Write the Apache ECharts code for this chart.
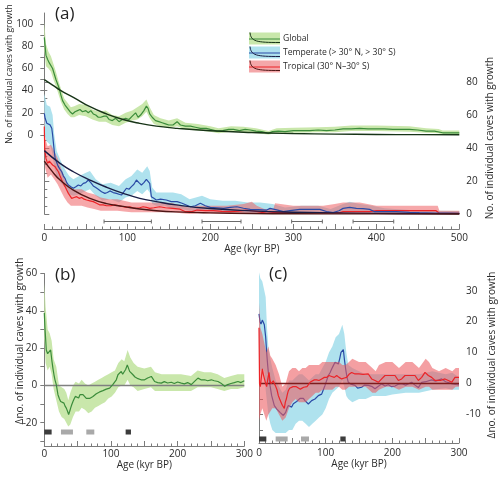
<!DOCTYPE html>
<html><head><meta charset="utf-8">
<script src="https://cdn.jsdelivr.net/npm/echarts@6/dist/echarts.min.js"></script>
<style>html,body{margin:0;padding:0;background:#fff}#c{width:500px;height:477px}</style>
</head><body><div id="c"></div>
<script>
// ---------- Panel (a): number of caves with growth ----------
const globalLine = [[0,88],[1,80],[2,72],[4,68],[6,65],[8,64],[10,60],[12,55],[14,50],[16,46],[18,42],[20,36],[22,31],[25,27],[28,24],[31,21],[34,19],[37,21],[40,22],[43,23],[46,21],[50,22],[53,20],[56,22],[59,19],[62,18],[65,16],[68,16],[72,17],[75,17],[78,14],[82,13],[86,15],[90,12],[94,14],[98,15],[102,14],[106,17],[110,20],[113,16],[116,18],[120,22],[123,26],[125,24],[127,19],[130,16],[134,13],[138,12],[142,11],[146,10],[150,9],[155,9],[160,12],[164,9],[170,8],[176,8],[182,7],[188,6],[195,6],[200,5],[208,3.5],[215,4],[222,5],[228,5],[235,4],[242,5],[248,4.5],[255,3.5],[262,3],[270,1.5],[275,3],[282,3.5],[290,3],[300,4],[310,4],[320,4],[330,4.5],[340,4],[350,4.5],[360,5.5],[370,5.5],[380,6],[390,5.5],[400,5.5],[410,5.5],[420,5],[430,5],[440,5],[450,4.5],[460,3.5],[470,3.5],[480,2],[490,2],[500,2]];
const globalBand = [[0,76,102],[2,62,82],[5,60,75],[8,57,71],[11,50,64],[14,44,57],[17,37,49],[20,30,42],[24,23,33],[28,19,29],[32,16,25],[36,16,26],[42,18,28],[50,17,27],[58,14,23],[66,12,21],[74,12,22],[82,9,18],[90,8,17],[98,11,20],[106,13,22],[112,14,25],[118,17,28],[123,21,32],[127,15,25],[132,10,18],[140,8,15],[150,6,13],[160,8,15],[170,5,11],[185,4,10],[200,3,8],[210,1.5,6],[225,3,8],[240,2.5,7.5],[255,1.5,6],[270,0.5,3.5],[280,1.5,6],[300,2,6.5],[330,2.5,7],[350,2.5,7.5],[370,3.5,8.5],[400,3.5,8.5],[440,3,8],[460,2,6],[475,1.5,5.5],[480,0.5,4],[500,0.5,4]];
const globalFit = [[0,50],[10,45],[20,40],[35,34],[55,25.5],[75,19],[95,14],[115,10.5],[135,8],[160,6],[200,3.8],[250,2.2],[300,1.3],[350,0.8],[400,0.5],[450,0.3],[500,0.2]];

const temperateLine = [[0,61],[1,58],[3,55],[5,56],[7,54],[9,52],[10,48],[11,43],[12,38],[13,34],[15,31],[17,28.7],[19,27],[21,25.6],[23,23],[25,21.6],[27,19],[29,17.6],[32,16.5],[35,15.6],[38,16.5],[41,17.6],[44,17],[47,18.6],[50,19],[53,20.6],[56,19],[59,17],[62,16],[65,15],[69,13.5],[73,12.5],[76,13],[79,14],[83,13],[87,12.5],[90,12],[93,11.5],[96,13.5],[99,15.6],[102,15],[105,16.6],[108,18],[111,20.6],[114,19],[117,17.6],[120,19],[123,21],[125,20],[127,18.6],[129,10.5],[132,9.5],[135,8.5],[140,9],[147,8.5],[153,7.5],[160,7.5],[166,6.5],[176,4.4],[182,5],[188,6.5],[194,5],[200,4],[208,3.8],[216,3.4],[224,4],[232,4.4],[240,3.5],[248,2.8],[258,2.6],[268,2.4],[272,3.4],[280,2.5],[288,1.4],[296,2],[308,2.8],[320,2.8],[332,2.8],[340,1.5],[348,0.8],[355,2],[360,3.4],[368,4],[376,3.4],[384,3.2],[392,2.8],[398,1.4],[410,1.4],[424,1.4],[440,1],[452,0.8],[470,0.6],[485,0.5],[500,0.4]];
const temperateBand = [[0,48,73],[3,44,66],[7,42,65],[10,36,60],[12,28,48],[15,23,38],[20,19,32],[25,16,27],[30,12,23],[35,11,21],[42,12,23],[50,14,25],[55,15,26],[62,11,21],[70,8,18],[80,9,19],[90,7,17],[98,10,21],[105,11,23],[112,14,27],[118,12,25],[124,15,29],[127,13,26],[130,6,16],[135,5,13],[145,5,13],[155,3,13],[165,3,12],[175,2,9],[190,2,11],[200,1.5,9],[215,1,8],[230,1.5,8],[245,0.8,7],[260,0.5,7],[275,0.5,6],[290,0,4],[310,0.5,5],[330,0.5,5],[345,0,3],[360,1,6],[368,1.5,7.5],[380,1,6],[395,0.5,5],[410,0,3.5],[440,0,2.5],[470,0,2],[500,0,1.8]];
const temperateFit = [[0,38.4],[19,30.7],[35,25.6],[55,20.6],[75,16.2],[95,12.5],[115,9.5],[135,7.5],[159,5.5],[200,3.3],[250,1.9],[300,1.1],[350,0.7],[400,0.4],[450,0.25],[500,0.15]];

const tropicalLine = [[0,53],[0.5,39],[2,33.7],[4,30.7],[6,32],[8,32.7],[10,29.7],[13,28.7],[15,27],[17,25.6],[19,23],[21,20.6],[23,18.5],[25,16.6],[27,14.5],[29,12.5],[31,11],[33,9.5],[36,10],[39,10.5],[42,9.5],[45,10],[48,9],[51,8.5],[55,8],[59,7.5],[63,6.5],[67,5.5],[71,5.5],[75,5],[80,5],[85,5.5],[90,5],[95,4.4],[99,4],[103,4.4],[107,3.8],[111,3.4],[115,3.8],[119,4.4],[123,4],[127,3.4],[132,3.8],[139,4.4],[146,3.8],[155,3.4],[163,3],[170,1.4],[178,1.4],[184,2.4],[194,2],[204,2],[214,1.6],[224,1.4],[234,1.8],[244,2.4],[252,1.8],[262,1],[268,0.4],[276,0.8],[300,0.8],[330,0.8],[356,0.8],[360,1.4],[380,1.4],[392,1.4],[400,2],[420,2],[440,2],[460,2],[472,2],[476,0.4],[500,0.4]];
const tropicalBand = [[0,40,65],[1,28,46],[4,22,41],[8,24,42],[12,21,38],[16,18,34],[20,14,28],[24,10,23],[28,7,18],[32,5,15],[38,5,15],[45,5,15],[52,4,13],[60,3,12],[68,2,10],[78,2,9],[88,2,9],[96,1.5,8],[105,1,7],[115,1,7],[125,1,7],[135,1,7],[145,1,7],[155,1,6.5],[165,0.5,5],[175,0,4],[185,0.5,5],[200,0.3,5],[220,0.2,5],[240,0.5,6],[250,0.3,7.5],[256,0.3,5],[265,0,3],[276,0,3],[278,0,6.5],[300,0,5],[336,0,5],[350,0,6],[360,0,7],[380,0,7],[400,0,5],[440,0,5],[474,0,5],[476,0,2],[500,0,2]];
const tropicalFit = [[0,32],[10,25.5],[19,20.6],[35,14.5],[55,9.5],[75,6.3],[95,4.6],[115,3],[135,2],[159,1.3],[200,0.7],[250,0.3],[300,0.15],[400,0.05],[500,0]];

const ageRanges = [[72,129],[190,237],[298,335],[372,421]];

// ---------- Panel (b): global anomaly ----------
const globalDelta = [[0,38.8],[1,30.7],[3,19],[5,17],[6.5,16.5],[8,18],[9.5,19],[11.5,12.9],[13,9],[14.5,5.7],[16,3],[18,0.4],[20.5,-5],[22.5,-7],[24.5,-8.6],[27,-9],[29.5,-9.5],[31,-11],[33,-12.2],[35,-14],[36.5,-15.7],[38,-14],[39.5,-12.2],[41,-10.5],[43,-8.6],[45,-7],[46.5,-5.9],[49,-6.5],[51.5,-6.8],[53.5,-5],[55.5,-4.1],[58,-5],[60.5,-5.9],[63,-7],[65.5,-7.7],[68,-7],[70.5,-6.4],[73,-6],[75.5,-5.4],[78,-4.5],[80.5,-4.1],[83,-3.5],[85.5,-3.2],[88,-2.8],[90.5,-2.3],[93,-2],[95.5,-1.1],[98,-1.5],[100.5,-0.5],[103,0.5],[105.5,1.2],[108,3],[110.5,5.7],[113,6.5],[115.5,7.5],[117.5,6],[119.5,6.6],[122,8.5],[124.5,11],[126,10],[128,7.5],[130.5,6.5],[133,5.7],[136,4.5],[140.5,3.6],[145,3],[150.5,3],[155,4],[160.5,4.8],[163,3.5],[165.5,2.1],[170,1.5],[175.5,1.2],[180,2],[185,1.3],[190.5,1.7],[195,1],[200,1.8],[205.5,1.2],[210,0.8],[215,1.5],[220.5,0.4],[225,2],[230.5,3.9],[235,3],[240.5,3],[245,2.5],[250.5,3],[255,2.5],[260.5,2.1],[265,1.2],[270.5,-0.5],[275,0.4],[280,1],[285,1.5],[290.5,2.1],[295,1.5],[300,2.5]];
const globalDeltaBand = [[0,25,55],[2,12,42],[5,8,30],[8,10,28],[11,6,24],[14,-2,14],[18,-8,10],[22,-14,0],[26,-17,-1],[30,-18,-2],[33,-20,-4],[36,-22,-8],[39,-21,-4],[43,-17,0],[47,-14,2],[52,-14,1],[56,-12,3],[61,-13,1],[66,-15,0],[71,-14,1],[76,-12,2],[81,-11,3],[86,-10,4],[91,-9,5],[96,-7,6],[101,-6,7],[106,-4,8],[111,-1,12],[116,0,14],[120,0,13],[125,3,19],[129,0,15],[134,-1,12],[140,-3,10],[150,-2,9],[160,-1,10],[166,-3,7],[176,-3,6],[190,-3,6],[205,-3,6],[220,-3,5],[230,-1,8],[240,-1,7],[250,-1,7],[260,-2,6],[270,-3,4],[280,-2,5],[290,-2,6],[300,-1,6]];

// ---------- Panel (c): temperate / tropical anomaly ----------
const temperateDelta = [[0,22.5],[1.5,20],[3,19.2],[5,20.5],[6.5,20.3],[8,19],[9,19.6],[10,15],[11.5,10],[13,6],[14,3.6],[16.5,-0.6],[19,-3.9],[21,-5.5],[23,-7.1],[26.5,-8.2],[29,-8.8],[31.5,-9.3],[34,-9.8],[36.5,-10.3],[38,-10],[40,-9.3],[42,-8],[44,-7.1],[46.5,-7.3],[49,-7.6],[51.5,-6.5],[54,-6],[56.5,-5.8],[59,-5.2],[61.5,-4.8],[64,-4.4],[66.5,-4.8],[69,-5.5],[71.5,-6],[74,-6.6],[76.5,-6.2],[79,-5.5],[81.5,-5.3],[84,-5],[86.5,-4.5],[89,-3.9],[91.5,-3.6],[94,-3.4],[96.5,-2],[99,-0.6],[101.5,1],[104,2.6],[106.5,3.5],[109,4.7],[111.5,5.8],[114,6.9],[116.5,6.6],[119,6.3],[121,8],[123,10.1],[125,10.6],[126.5,11],[128,8],[130,4.7],[132,2],[134,0.4],[138,-0.2],[144,-0.6],[148,-1.5],[154,-1.2],[158,-0.5],[164,-0.6],[170,-1],[174,-1.7],[178,-1],[184,-0.1],[189,-0.8],[194,-0.4],[199,-1],[204,-0.8],[209,-0.2],[214,0],[220,-0.5],[229,0.4],[234,-0.5],[239,-1.3],[244,0.4],[250,0.6],[259,1.2],[265,0.8],[274,1.5],[280,0.6],[289,0],[295,-0.3],[300,-0.4]];
const temperateDeltaBand = [[0,8,36],[2,4,34],[5,5,33],[8,4,30],[10,-2,28],[12,-6,18],[14,-10,12],[17,-13,8],[20,-15,5],[25,-16,1],[30,-16,-1],[35,-16,-3],[40,-16,-2],[45,-15,1],[50,-15,1],[55,-13,2],[60,-12,3],[65,-12,3],[70,-13,2],[75,-14,1],[80,-13,2],[85,-12,3],[90,-11,3],[95,-10,5],[100,-8,7],[105,-5,10],[110,-3,12],[115,-2,15],[120,-1,16],[125,1,19],[128,-1,16],[131,-4,10],[134,-5,6],[140,-6,5],[150,-5,4],[160,-5,3],[170,-4,3],[180,-4,3],[190,-4,3],[200,-3.5,3],[220,-3,3],[240,-3,3],[260,-2,4],[280,-1.5,3],[290,-2,3.5],[300,-2,2]];
const tropicalDelta = [[0,18],[0.8,0],[2,-1],[3,0.9],[5,4.7],[6.5,3],[8,2.6],[10,0],[11.5,-1],[13,1.2],[15,3.6],[16.5,1],[18,0],[20,0.5],[21.5,0.9],[23,0],[25,-0.9],[27,-2],[29,-3.9],[31,-5],[33,-6],[35,-7],[36.5,-7.5],[38,-8],[39.5,-6],[41,-5],[42.5,-3.5],[44,-2.3],[46,-1.5],[48,-1.6],[51,-1],[54,-0.6],[56,-1],[59,-1.5],[62,-1.8],[64,-1.5],[67,-1.2],[69,-1.5],[72,-1],[74,-0.6],[77,0.5],[79,1],[83,1.2],[86.5,1.2],[90,1],[94,1.5],[98,2],[101.5,2],[105,2.6],[109,2.3],[113,2],[116.5,2.6],[120,2],[124,1.5],[128,1.8],[131.5,2],[135,3],[139,3.6],[144,3.1],[150,3.1],[156,3],[164,3.1],[169,1.5],[174,1],[179,0.4],[184,1.5],[189,2.6],[196,2.6],[204,2.6],[209,1],[214,1.5],[219,2.6],[226,2.6],[234,2.6],[239,1],[244,2],[249,3.6],[254,2.6],[259,2],[264,1],[272,1],[279,1.5],[284,1],[289,0.4],[294,2],[300,2]];
const tropicalDeltaBand = [[0,-12,26],[2,-10,18],[5,-8,16],[8,-10,13],[11,-12,10],[14,-10,12],[17,-9,9],[20,-8,8],[25,-8,6],[30,-10,3],[35,-12,-1],[40,-11,0],[45,-8,4],[50,-6,5],[55,-5,5],[60,-6,4],[65,-6,5],[70,-6,5],[75,-5,6],[80,-4,6],[85,-3,6],[90,-3,6],[95,-2,7],[100,-2,7],[105,-2,7],[110,-2,7],[115,-1,7],[120,-1,7],[125,-2,6],[130,-2,6],[135,-1,7],[140,-1,8],[150,-1,7],[160,-1,7],[165,-2,6],[170,-3,5],[175,-3,4],[180,-2,6],[190,-1,7],[200,-1,7],[210,-2,5],[220,-1,7],[230,-1,7],[240,-2,5],[250,-1,8],[255,-1,7],[260,-2,5],[270,-2,4],[280,-2,5],[290,-2,4],[295,-1,5],[300,-1,5]];

const zeroLine = [[0,0],[300,0]];
// climate-stage markers: [start, end, shade]
const stageBars = [[0,11,'dark'],[25,43,'light'],[63,75,'light'],[122,130,'dark']];

const legendLabels = ['Global','Temperate (> 30° N, > 30° S)','Tropical (30° N–30° S)'];
const countTitle = 'No. of individual caves with growth';
const deltaTitle = 'Δno. of individual caves with growth';
const ageTicksA = [0,100,200,300,400,500];
const ageTicksBC = [0,100,200,300];
const countTicksGlobal = [0,20,40,60,80,100];
const deltaTicksB = [-20,0,20,40,60];
const deltaTicksC = [-10,0,10,20,30];

// ---------- styling ----------
const FONT = 'Open Sans';
const AX = '#7b7b7b';
const TXT = '#2b2b2b';
const C = {
  gLine:'#3b8c3a', gBand:'#c9e7ab', gFit:'#173417',
  tLine:'#2a4aa6', tBand:'#afe2ee', tFit:'#1a1d45',
  rLine:'#ec2327', rBand:'rgba(238,96,100,0.55)', rFit:'#4e1616',
  zeroB:'#808080', zeroC:'#7d1c1c', dark:'#3c3c3c', light:'#a9a9a9', range:'#6a6a6a'
};

function range(a,b,s){const r=[];for(let v=a;v<=b+1e-9;v+=s)r.push(Math.round(v*100)/100);return r;}

function bandSeries(band, xi, yi, color, z){
  return {type:'custom', xAxisIndex:xi, yAxisIndex:yi, data:[[band[0][0], band[0][1]]], z, silent:true,
    renderItem:(p, api)=>{
      const pts = band.map(d=>api.coord([d[0], d[2]]));
      for(let i=band.length-1;i>=0;i--) pts.push(api.coord([band[i][0], band[i][1]]));
      return {type:'polygon', shape:{points:pts}, style:{fill:color}};
    }};
}
function lineSeries(data, xi, yi, color, w, z, smooth){
  return {type:'line', xAxisIndex:xi, yAxisIndex:yi, data, symbol:'none', showSymbol:false,
    smooth:!!smooth, clip:false, lineStyle:{color, width:w}, z, silent:true};
}
function stageSeries(xi, yi, yVal){
  return {type:'custom', xAxisIndex:xi, yAxisIndex:yi, z:5, silent:true,
    data: stageBars.map(d=>[d[0], yVal, d[1]]),
    renderItem:(p, api)=>{
      const a = api.coord([api.value(0), api.value(1)]);
      const b = api.coord([api.value(2), api.value(1)]);
      return {type:'rect', shape:{x:a[0], y:a[1]-2.5, width:b[0]-a[0], height:5},
        style:{fill: stageBars[p.dataIndex][2]==='dark' ? C.dark : C.light}};
    }};
}

const labelStyle = {color:TXT, fontFamily:FONT, fontSize:10};
const nameStyle = {color:TXT, fontFamily:FONT, fontSize:10};

function xAxisVis(gi, max, labels, nameGap, labelMargin){
  return {type:'value', gridIndex:gi, min:0, max, interval:50, position:'bottom',
    axisLine:{show:true, onZero:false, lineStyle:{color:AX, width:1}},
    axisTick:{show:true, inside:true, length:5, lineStyle:{color:AX}},
    minorTick:{show:true, splitNumber:5, length:2.5, lineStyle:{color:AX}},
    axisLabel:{customValues:labels, margin:labelMargin, ...labelStyle},
    splitLine:{show:false}, minorSplitLine:{show:false},
    name:'Age (kyr BP)', nameLocation:'middle', nameGap, nameTextStyle:nameStyle};
}
function xAxisHidden(gi, max){
  return {type:'value', gridIndex:gi, min:0, max, show:false};
}
function grid(left, top, width, height){
  return {left, top, width, height, containLabel:false, outerBoundsMode:'none'};
}
function vTitle(text, x, y, size){
  return {type:'text', x, y, rotation:Math.PI/2, silent:true,
    style:{text, fill:TXT, font:size+'px "'+FONT+'"', align:'center', verticalAlign:'middle'}};
}

const option = {
  animation:false,
  backgroundColor:'#fff',
  title:[
    {text:'(a)', left:50, top:1, textStyle:{fontSize:17, fontWeight:'normal', color:'#222', fontFamily:FONT}},
    {text:'(b)', left:50, top:262, textStyle:{fontSize:17, fontWeight:'normal', color:'#222', fontFamily:FONT}},
    {text:'(c)', left:264, top:261, textStyle:{fontSize:17, fontWeight:'normal', color:'#222', fontFamily:FONT}}
  ],
  grid:[
    grid(44.3, 13, 415, 122),
    grid(44.3, 82, 415, 132),
    grid(44.3, 214, 415, 15),
    grid(44.3, 273.5, 200, 172.5),
    grid(259, 290.7, 200, 152.3)
  ],
  xAxis:[
    xAxisHidden(0,500), xAxisHidden(1,500),
    xAxisVis(2,500,ageTicksA,13,4),
    xAxisVis(3,300,ageTicksBC,11,3),
    xAxisVis(4,300,ageTicksBC,14,5)
  ],
  yAxis:[
    {type:'value', gridIndex:0, position:'left', offset:5, min:0, max:110,
      axisLine:{show:true, lineStyle:{color:AX}},
      axisTick:{show:true, length:4, customValues:range(0,100,10), lineStyle:{color:AX}},
      axisLabel:{customValues:countTicksGlobal, margin:6, ...labelStyle},
      splitLine:{show:false}},
    {type:'value', gridIndex:1, position:'right', min:0, max:80, interval:20,
      axisLine:{show:true, lineStyle:{color:AX}},
      axisTick:{show:true, length:5, lineStyle:{color:AX}},
      minorTick:{show:true, splitNumber:4, length:3, lineStyle:{color:AX}},
      axisLabel:{margin:7, ...labelStyle},
      splitLine:{show:false}, minorSplitLine:{show:false}},
    {type:'value', gridIndex:2, min:0, max:1, show:false},
    {type:'value', gridIndex:3, position:'left', min:-32.5, max:60,
      axisLine:{show:true, lineStyle:{color:AX}},
      axisTick:{show:true, length:4, customValues:range(-30,60,10), lineStyle:{color:AX}},
      axisLabel:{customValues:deltaTicksB, margin:7, ...labelStyle},
      splitLine:{show:false}},
    {type:'value', gridIndex:4, position:'right', min:-19.2, max:30,
      axisLine:{show:true, lineStyle:{color:AX}},
      axisTick:{show:true, length:4, customValues:range(-15,30,5), lineStyle:{color:AX}},
      axisLabel:{customValues:deltaTicksC, margin:7, ...labelStyle},
      splitLine:{show:false}}
  ],
  graphic: [
    vTitle(countTitle, 9.5, 74, 8.6),
    vTitle(countTitle, 490.5, 138, 10),
    vTitle(deltaTitle, 20, 341, 10),
    vTitle(deltaTitle, 492, 355, 10)
  ].concat(legendLabels.map((lab,i)=>{
    const cy = 38.5 + 14*i;
    const cols = [[C.gBand,C.gLine,C.gFit],[C.tBand,C.tLine,C.tFit],['#f4a7a9',C.rLine,C.rFit]][i];
    return {type:'group', children:[
      {type:'rect', shape:{x:249, y:cy-6, width:31, height:12}, style:{fill:cols[0]}},
      {type:'line', shape:{x1:249, y1:cy+0.5, x2:280, y2:cy+0.5}, style:{stroke:cols[1], lineWidth:1}},
      {type:'bezierCurve', shape:{x1:250, y1:cy-6, cpx1:251, cpy1:cy+3, cpx2:256, cpy2:cy+4, x2:280, y2:cy+4}, style:{stroke:cols[2], lineWidth:1, fill:null}},
      {type:'text', x:283, y:cy, style:{text:lab, fill:TXT, font:'8.6px "Open Sans"', verticalAlign:'middle', align:'left'}}
    ]};
  })),
  series:[
    bandSeries(globalBand,0,0,C.gBand,1),
    lineSeries(globalLine,0,0,C.gLine,1.2,3),
    lineSeries(globalFit,0,0,C.gFit,1.4,4,true),
    bandSeries(temperateBand,1,1,C.tBand,1),
    bandSeries(tropicalBand,1,1,C.rBand,2),
    lineSeries(tropicalLine,1,1,C.rLine,1.2,3),
    lineSeries(temperateLine,1,1,C.tLine,1.2,3),
    lineSeries(temperateFit,1,1,C.tFit,1.4,4,true),
    lineSeries(tropicalFit,1,1,C.rFit,1.4,4,true),
    {type:'custom', xAxisIndex:2, yAxisIndex:2, z:5, silent:true,
      data: ageRanges.map(r=>[r[0],0.5,r[1]]),
      renderItem:(p, api)=>{
        const a = api.coord([api.value(0), api.value(1)]);
        const b = api.coord([api.value(2), api.value(1)]);
        const st = {stroke:C.range, lineWidth:1};
        return {type:'group', children:[
          {type:'line', shape:{x1:a[0], y1:a[1], x2:b[0], y2:b[1]}, style:st},
          {type:'line', shape:{x1:a[0], y1:a[1]-2, x2:a[0], y2:a[1]+2}, style:st},
          {type:'line', shape:{x1:b[0], y1:b[1]-2, x2:b[0], y2:b[1]+2}, style:st}
        ]};
      }},
    bandSeries(globalDeltaBand,3,3,C.gBand,1),
    lineSeries(zeroLine,3,3,C.zeroB,1.5,2),
    lineSeries(globalDelta,3,3,C.gLine,1.2,3),
    stageSeries(3,3,-25),
    bandSeries(temperateDeltaBand,4,4,C.tBand,1),
    lineSeries(temperateDelta,4,4,C.tLine,1.2,2),
    bandSeries(tropicalDeltaBand,4,4,'rgba(236,90,95,0.58)',3),
    lineSeries(zeroLine,4,4,C.zeroC,1.5,4),
    lineSeries(tropicalDelta,4,4,C.rLine,1.2,5),
    stageSeries(4,4,-17.9)
  ]
};
const chart = echarts.init(document.getElementById('c'));
chart.setOption(option);
</script>
</body></html>
